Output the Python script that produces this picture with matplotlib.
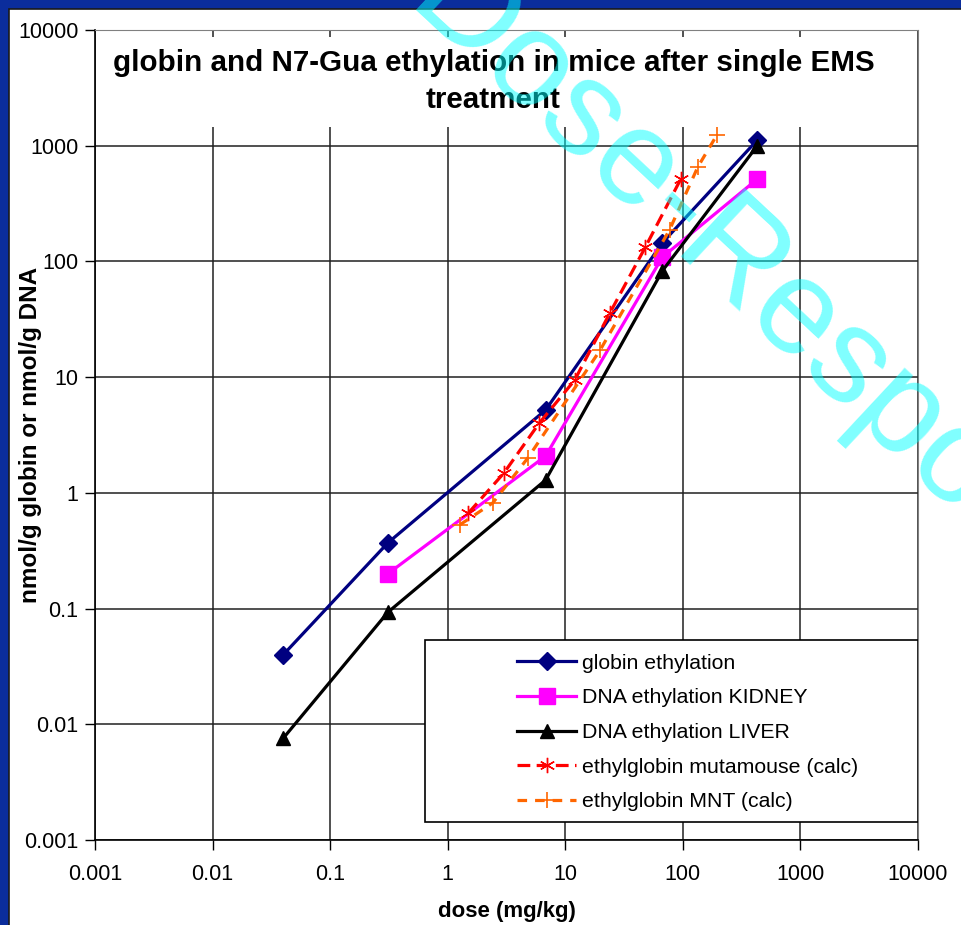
import numpy as np
import matplotlib.pyplot as plt
from matplotlib.patches import Rectangle

plt.rcParams['font.family'] = ['Liberation Sans', 'DejaVu Sans']

# dose (mg/kg) for the measured series
dose = [0.04, 0.31, 6.8, 67, 430]
globin = [0.04, 0.37, 5.2, 145, 1120]
kidney_dose = [0.31, 6.8, 67, 430]
kidney = [0.20, 2.08, 109, 515]
liver = [0.0076, 0.093, 1.29, 83, 1000]

# calculated ethylglobin curves
muta_dose = [1.5, 3.0, 6.0, 12, 24, 48, 96]
muta = [0.67, 1.48, 4.0, 9.4, 36, 133, 515]
mnt_dose = [1.27, 2.42, 4.8, 19.7, 77, 134, 195]
mnt = [0.53, 0.82, 2.0, 17, 187, 655, 1240]

xticks = [0.001, 0.01, 0.1, 1, 10, 100, 1000, 10000]
xticklabels = ['0.001', '0.01', '0.1', '1', '10', '100', '1000', '10000']

fig = plt.figure(figsize=(9.62, 9.25), dpi=100, facecolor='#0b2d9c')
# white slide area with a thin dark edge
fig.patches.append(Rectangle((9 / 962, -0.01), 1, 1.01 - 9 / 925, transform=fig.transFigure,
                             facecolor='white', edgecolor='#1a1a1a', linewidth=1.2, zorder=-10))

ax = fig.add_axes([95 / 962, 1 - 840 / 925, 823 / 962, 810 / 925])
ax.set_facecolor('none')
ax.set_xscale('log')
ax.set_yscale('log')
ax.set_xlim(0.001, 10000)
ax.set_ylim(0.001, 10000)

ax.grid(True, which='major', color='#202020', linewidth=1.1, zorder=1)
ax.minorticks_off()
ax.set_xticks(xticks)
ax.set_xticklabels(xticklabels)
ax.set_yticks(xticks)
ax.set_yticklabels(xticklabels)
ax.tick_params(axis='both', direction='out', length=7, width=1, labelsize=15.5, pad=5)
ax.tick_params(axis='x', pad=10)
for s in ['top', 'right']:
    ax.spines[s].set_color('#808080')
for s in ['left', 'bottom']:
    ax.spines[s].set_color('black')
    ax.spines[s].set_linewidth(1.2)

ax.set_xlabel('dose (mg/kg)', fontsize=16, fontweight='bold', labelpad=12)
ax.set_ylabel('nmol/g globin or nmol/g DNA', fontsize=17.5, fontweight='bold')
ax.yaxis.set_label_coords(-0.064, 0.5)

# title sits on a white box that hides the gridlines behind it
ax.add_patch(Rectangle((0.012, 0.880), 0.948, 0.111, transform=ax.transAxes,
                       facecolor='white', edgecolor='none', zorder=2))
ax.text(0.484, 0.936, 'globin and N7-Gua ethylation in mice after single EMS\ntreatment',
        transform=ax.transAxes, ha='center', va='center', fontsize=21.3,
        fontweight='bold', linespacing=1.4, zorder=3)

l1, = ax.plot(dose, globin, color='#000080', lw=2.3, marker='D', ms=9, zorder=5,
              label='globin ethylation')
l2, = ax.plot(kidney_dose, kidney, color='#ff00ff', lw=2.3, marker='s', ms=11, zorder=5,
              label='DNA ethylation KIDNEY')
l3, = ax.plot(dose, liver, color='black', lw=2.3, marker='^', ms=10, zorder=5,
              label='DNA ethylation LIVER')
l4, = ax.plot(muta_dose, muta, color='#ff0000', lw=2.3, dashes=(4, 2), marker=(6, 2, 0),
              ms=11, mew=1, zorder=6, label='ethylglobin mutamouse (calc)')
l5, = ax.plot(mnt_dose, mnt, color='#ff6600', lw=2.3, dashes=(3, 2.5), marker='+',
              ms=11, mew=1.2, zorder=6, label='ethylglobin MNT (calc)')

# legend box
ax.add_patch(Rectangle((0.401, 0.022), 0.599, 0.225, transform=ax.transAxes,
                       facecolor='white', edgecolor='black', linewidth=1.2, zorder=7))
leg = ax.legend(handles=[l1, l2, l3, l4, l5], loc='upper left',
                bbox_to_anchor=(0.505, 0.238), frameon=False, fontsize=15.3,
                handlelength=2.8, handletextpad=0.25, labelspacing=0.74,
                borderpad=0.3, borderaxespad=0)
leg.set_zorder(8)

# watermark
fig.text(0.42, 0.99, 'Dose-Response', color='#00ffff', alpha=0.5, fontsize=98,
         rotation=-43, rotation_mode='anchor', ha='left', va='baseline', zorder=20)

fig.savefig('out.png', dpi=100, facecolor=fig.get_facecolor())
